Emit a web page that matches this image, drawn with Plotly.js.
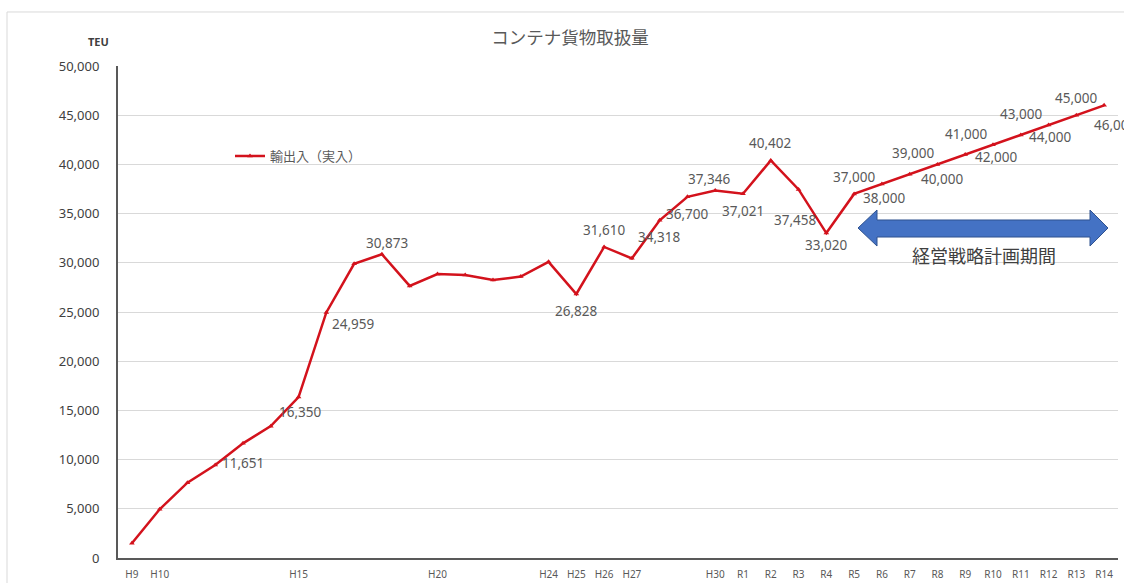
<!DOCTYPE html>
<html>
<head>
<meta charset="utf-8">
<script src="https://cdn.plot.ly/plotly-3.0.1.min.js"></script>
<style>
  html, body { margin: 0; padding: 0; background: #ffffff; overflow: hidden; }
  #chart { width: 1124px; height: 583px; }
</style>
</head>
<body>
<div id="chart"></div>
<script>
// ---- Data ----
const years = ['H9','H10','H11','H12','H13','H14','H15','H16','H17','H18','H19','H20','H21','H22','H23','H24','H25','H26','H27','H28','H29','H30',
               'R1','R2','R3','R4','R5','R6','R7','R8','R9','R10','R11','R12','R13','R14'];
const teu = [1500, 4950, 7650, 9450, 11651, 13400, 16350, 24959, 29900, 30873, 27650, 28850, 28750, 28250, 28600, 30100, 26828, 31610, 30450, 34318, 36700, 37346,
             37021, 40402, 37458, 33020, 37000, 38000, 39000, 40000, 41000, 42000, 43000, 44000, 45000, 46000];
// which points carry a data label
const labelled = ['H13','H15','H16','H18','H25','H26','H28','H29','H30','R1','R2','R3','R4','R5','R6','R7','R8','R9','R10','R11','R12','R13','R14'];
// tick labels shown on the category axis
const tickLabels = ['H9','H10','H15','H20','H24','H25','H26','H27','H30','R1','R2','R3','R4','R5','R6','R7','R8','R9','R10','R11','R12','R13','R14'];
const seriesName = '輸出入（実入）';
const chartTitle = 'コンテナ貨物取扱量';
const periodLabel = '経営戦略計画期間';
const unitLabel = 'TEU';

// ---- Label placement (style only: pixel shifts from each point) ----
const abovePoints = ['H18','H26','H30','R2','R5','R7','R9','R11','R13'];
const labelShift = {            // [xshift, yshift] overrides
  'H13': [0, -20], 'H15': [2, -15], 'H16': [27, -12], 'H18': [5, 11], 'H30': [-6, 12],
  'R3': [-3, -31], 'R4': [0, -12], 'R6': [3, -14], 'R8': [5, -15], 'R10': [3, -12], 'R12': [2, -12],
  'R7': [4, 21], 'R9': [1, 21], 'R11': [1, 21], 'R14': [11, -20]
};

const FONT = '"Noto Sans", "Noto Sans CJK JP", sans-serif';
const CJK = '"Noto Sans CJK JP", "Noto Sans", sans-serif';

const trace = {
  type: 'scatter',
  mode: 'lines+markers',
  x: years,
  y: teu,
  name: seriesName,
  line: { color: '#d3121c', width: 2.5 },
  marker: { symbol: 'triangle-up', size: 5, color: '#d3121c' },
  hoverinfo: 'x+y'
};

const labelAnnotations = labelled.map(cat => {
  const i = years.indexOf(cat);
  const above = abovePoints.includes(cat);
  const s = labelShift[cat] || [0, above ? 17 : -17];
  return {
    x: cat, y: teu[i], xref: 'x', yref: 'y',
    text: teu[i].toLocaleString('en-US'),
    showarrow: false, xanchor: 'center', yanchor: 'middle',
    xshift: s[0], yshift: s[1],
    font: { family: FONT, size: 13.5, color: '#595959' }
  };
});

const layout = {
  width: 1124,
  height: 583,
  margin: { l: 118, r: 6, t: 66, b: 25, pad: 0 },
  paper_bgcolor: '#ffffff',
  plot_bgcolor: '#ffffff',
  font: { family: FONT, color: '#595959' },
  title: {
    text: chartTitle,
    font: { family: CJK, size: 17.5, color: '#595959' },
    xref: 'paper', x: 0.452, xanchor: 'center',
    yref: 'container', y: 1 - 38 / 583, yanchor: 'middle'
  },
  showlegend: true,
  legend: {
    x: 0.112, y: 0.817, xanchor: 'left', yanchor: 'middle',
    bgcolor: 'rgba(0,0,0,0)',
    font: { family: CJK, size: 13, color: '#595959' }
  },
  xaxis: {
    type: 'category',
    range: [-0.5, years.length - 0.5],
    tickmode: 'array',
    tickvals: tickLabels,
    ticktext: tickLabels,
    tickangle: 0,
    tickfont: { family: FONT, size: 10, color: '#595959' },
    ticklabelstandoff: 6,
    showgrid: false,
    showline: true,
    linecolor: '#595959',
    linewidth: 2,
    ticks: '',
    zeroline: false,
    fixedrange: true
  },
  yaxis: {
    range: [0, 50000],
    dtick: 5000,
    tickformat: ',d',
    tickfont: { family: FONT, size: 13, color: '#404040' },
    ticklabelstandoff: 14,
    showgrid: true,
    gridcolor: '#d9d9d9',
    gridwidth: 1,
    showline: true,
    linecolor: '#595959',
    linewidth: 2,
    ticks: '',
    zeroline: false,
    fixedrange: true
  },
  shapes: [
    // chart-area frame
    { type: 'rect', xref: 'paper', yref: 'paper', x0: -0.111, x1: 1.2, y0: -0.2, y1: 1.1098,
      line: { color: '#d9d9d9', width: 1 }, fillcolor: 'rgba(0,0,0,0)', layer: 'below' },
    // double-headed arrow marking the strategy plan period
    { type: 'path', xref: 'paper', yref: 'paper',
      path: 'M 0.740 0.6707 L 0.759 0.7073 L 0.759 0.6870 L 0.972 0.6870 L 0.972 0.7073 L 0.990 0.6707 L 0.972 0.6341 L 0.972 0.6524 L 0.759 0.6524 L 0.759 0.6341 Z',
      fillcolor: '#4472c4', line: { color: '#2f528f', width: 1 }, layer: 'above' }
  ],
  annotations: labelAnnotations.concat([
    { text: periodLabel, xref: 'paper', yref: 'paper', x: 0.866, y: 0.616, xanchor: 'center', yanchor: 'middle',
      showarrow: false, font: { family: CJK, size: 18, color: '#404040' } },
    { text: '<b>' + unitLabel + '</b>', xref: 'paper', yref: 'paper', x: -0.02, y: 1.049, xanchor: 'center', yanchor: 'middle',
      showarrow: false, font: { family: FONT, size: 11, color: '#404040' } }
  ])
};

Plotly.newPlot('chart', [trace], layout, { staticPlot: true, displayModeBar: false });
</script>
</body>
</html>
